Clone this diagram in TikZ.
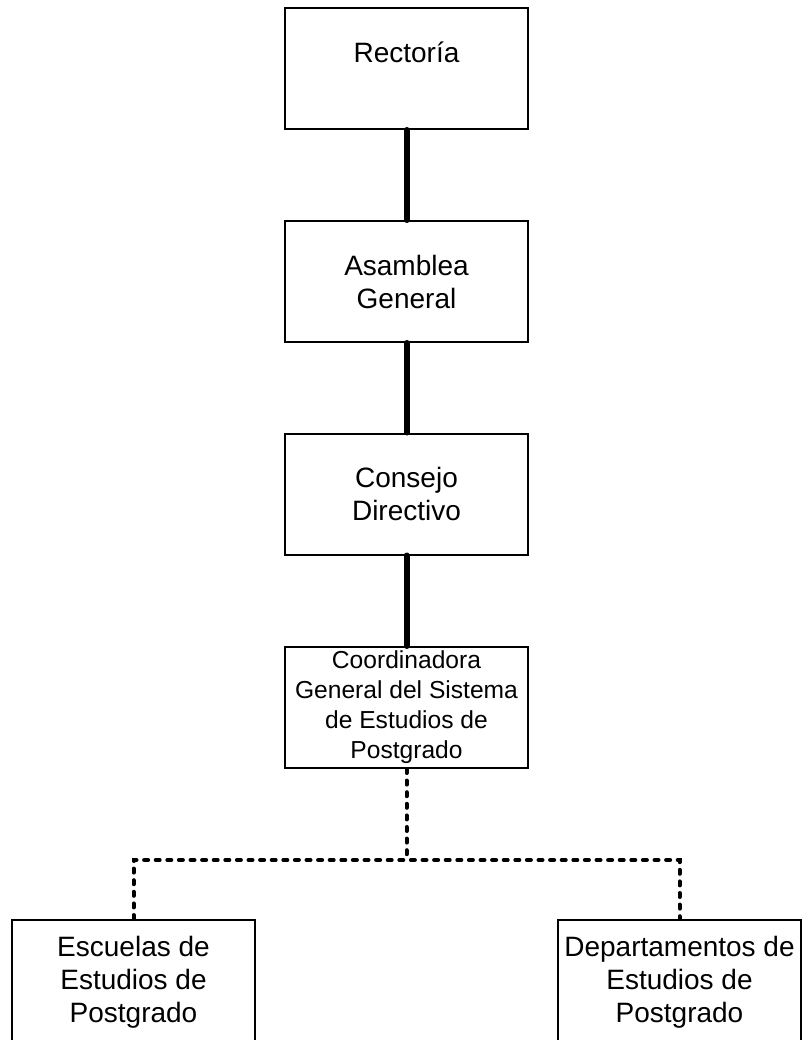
\documentclass[tikz,border=0pt]{standalone}
\usepackage{fontspec}
\setmainfont{Liberation Sans}
\begin{document}
\begin{tikzpicture}[x=1pt,y=-1pt,
  orgbox/.style={draw=black, line width=2pt, fill=white, inner sep=0pt,
    minimum width=243pt, minimum height=121pt, align=center,
    font=\fontsize{28}{33}\selectfont},
  smallbox/.style={orgbox, font=\fontsize{24.6}{30}\selectfont},
  lowbox/.style={orgbox, minimum height=124pt},
  solidlink/.style={line width=6pt, line cap=round, black},
  dotlink/.style={line width=4pt, line cap=round, dash pattern=on 4pt off 7.6pt, black}]
\clip (0,0) rectangle (802,1040);
\fill[white] (0,0) rectangle (802,1040);
\node[orgbox] (r) at (406.5,68.5) {Rectoría\\\mbox{}};
\node[orgbox] (a) at (406.5,281.5) {Asamblea\\General};
\node[orgbox] (cd) at (406.5,494) {Consejo\\Directivo};
\node[smallbox] (cg) at (406.5,707.5) {Coordinadora\\General del Sistema\\de Estudios de\\Postgrado};
\node[lowbox] (e) at (133.5,982) {Escuelas de\\Estudios de\\Postgrado};
\node[lowbox] (d) at (679.5,982) {Departamentos de\\Estudios de\\Postgrado};
\coordinate (j) at (406.5,860);
\draw[solidlink] (r.south) -- (a.north);
\draw[solidlink] (a.south) -- (cd.north);
\draw[solidlink] (cd.south) -- (cg.north);
\draw[dotlink] (cg.south) -- (j);
\draw[dotlink] (e.north) |- (j) -| (d.north);
\end{tikzpicture}
\end{document}
